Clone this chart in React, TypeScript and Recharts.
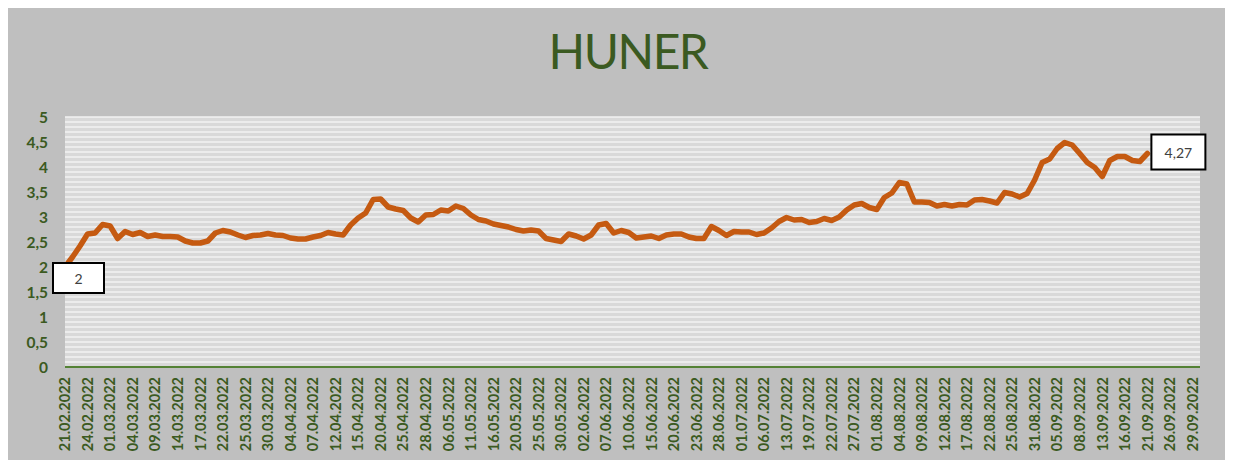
import { LineChart, Line, XAxis, YAxis, CartesianGrid, LabelList, ReferenceLine } from 'recharts';

// trading days (BIST), 21.02.2022 - 30.09.2022
const FEB = [21, 22, 23, 24, 25, 28];
const MAR = [1, 2, 3, 4, 7, 8, 9, 10, 11, 14, 15, 16, 17, 18, 21, 22, 23, 24, 25, 28, 29, 30, 31];
const APR = [1, 4, 5, 6, 7, 8, 11, 12, 13, 14, 15, 18, 19, 20, 21, 22, 25, 26, 27, 28, 29];
const MAY = [5, 6, 9, 10, 11, 12, 13, 16, 17, 18, 20, 23, 24, 25, 26, 27, 30, 31];
const JUN = [1, 2, 3, 6, 7, 8, 9, 10, 13, 14, 15, 16, 17, 20, 21, 22, 23, 24, 27, 28, 29, 30];
const JUL = [1, 4, 5, 6, 7, 8, 13, 14, 18, 19, 20, 21, 22, 25, 26, 27, 28, 29];
const AUG = [1, 2, 3, 4, 5, 8, 9, 10, 11, 12, 15, 16, 17, 18, 19, 22, 23, 24, 25, 26, 29, 31];
const SEP = [1, 2, 5, 6, 7, 8, 9, 12, 13, 14, 15, 16, 19, 20, 21, 22, 23, 26, 27, 28, 29, 30];

const MONTHS: [string, number[]][] = [
  ['02', FEB], ['03', MAR], ['04', APR], ['05', MAY],
  ['06', JUN], ['07', JUL], ['08', AUG], ['09', SEP],
];

const DATES: string[] = MONTHS.flatMap(([mm, days]) =>
  days.map((d) => `${String(d).padStart(2, '0')}.${mm}.2022`),
);

// closing prices (last one is 21.09.2022)
const PRICES = [
  2.0, 2.2, 2.42, 2.66, 2.68, 2.85, 2.82, 2.57, 2.71, 2.65,
  2.69, 2.61, 2.64, 2.61, 2.61, 2.6, 2.52, 2.48, 2.48, 2.52,
  2.68, 2.73, 2.7, 2.64, 2.59, 2.63, 2.64, 2.67, 2.64, 2.63,
  2.58, 2.56, 2.56, 2.6, 2.63, 2.69, 2.66, 2.64, 2.84, 2.98,
  3.08, 3.35, 3.36, 3.2, 3.16, 3.13, 2.98, 2.9, 3.04, 3.05,
  3.14, 3.12, 3.22, 3.17, 3.04, 2.95, 2.92, 2.86, 2.83, 2.8,
  2.75, 2.72, 2.74, 2.72, 2.57, 2.54, 2.51, 2.66, 2.62, 2.56,
  2.64, 2.84, 2.87, 2.68, 2.73, 2.69, 2.58, 2.6, 2.62, 2.57,
  2.64, 2.66, 2.66, 2.6, 2.57, 2.57, 2.81, 2.73, 2.63, 2.71,
  2.7, 2.7, 2.65, 2.68, 2.78, 2.91, 2.99, 2.94, 2.95, 2.89,
  2.91, 2.97, 2.93, 3.0, 3.14, 3.24, 3.27, 3.19, 3.15, 3.39,
  3.48, 3.69, 3.66, 3.3, 3.3, 3.29, 3.22, 3.25, 3.22, 3.25,
  3.24, 3.34, 3.35, 3.32, 3.28, 3.49, 3.46, 3.4, 3.47, 3.74,
  4.09, 4.16, 4.37, 4.49, 4.44, 4.27, 4.09, 3.99, 3.81, 4.13,
  4.21, 4.21, 4.13, 4.11, 4.27,
];

const Y_TICKS = [0, 0.5, 1, 1.5, 2, 2.5, 3, 3.5, 4, 4.5, 5];
// minor gridlines every 0.1
const GRID_TICKS = Array.from({ length: 50 }, (_, i) => (i + 1) / 10);

const GREEN = '#3b5a21';
const AXIS_GREEN = '#548235';
const ORANGE = '#c55a11';
const FONT = 'Lato, "Open Sans", sans-serif';

const data = DATES.map((date, i) => ({ date, price: i < PRICES.length ? PRICES[i] : null }));
const LAST = PRICES.length - 1;

const fmt = (v: number) => String(v).replace('.', ',');

function DateTick({ x, y, payload }: any) {
  return (
    <text
      x={x}
      y={y}
      transform={`rotate(-90 ${x} ${y})`}
      textAnchor="end"
      dy="0.36em"
      fill={GREEN}
      fontSize={14.5}
      fontWeight={700}
      fontFamily={FONT}
    >
      {payload.value}
    </text>
  );
}

function PriceLabel(props: any) {
  const { x, y, value, index } = props;
  if (value == null) return null;
  if (index === 0) {
    return (
      <g>
        <rect x={x - 12} y={y - 4} width={51} height={30} fill="#fff" stroke="#000" strokeWidth={2} />
        <text x={x + 13.5} y={y + 11} textAnchor="middle" dominantBaseline="central" fontSize={14} fill="#404040" fontFamily={FONT}>
          {fmt(value)}
        </text>
      </g>
    );
  }
  if (index === LAST) {
    return (
      <g>
        <rect x={x + 4} y={y - 19} width={54} height={35} fill="#fff" stroke="#000" strokeWidth={2} />
        <text x={x + 31} y={y - 1.5} textAnchor="middle" dominantBaseline="central" fontSize={14} fill="#404040" fontFamily={FONT}>
          {fmt(value)}
        </text>
      </g>
    );
  }
  return null;
}

export default function App() {
  return (
    <div style={{ position: 'relative', margin: -8, width: 1233, height: 468, background: '#dadada', overflow: 'hidden' }}>
      <div style={{ position: 'absolute', left: 6, top: 1, width: 1222, height: 465, background: '#bfbfbf' }}>
        <div
          style={{
            position: 'absolute',
            left: 0,
            width: 1244,
            top: 22,
            textAlign: 'center',
            fontFamily: FONT,
            fontSize: 48,
            letterSpacing: -1.5,
            color: GREEN,
            lineHeight: '56px',
          }}
        >
          HUNER
        </div>
        <LineChart width={1222} height={465} data={data} margin={{ top: 116, right: 28, left: 0, bottom: 0 }}>
          <CartesianGrid vertical={false} horizontal={false} fill="#d9d9d9" />
          {GRID_TICKS.map((v) => (
            <ReferenceLine key={v} y={v} stroke="#f2f2f2" strokeWidth={1.4} />
          ))}
          <XAxis
            dataKey="date"
            interval={2}
            tick={<DateTick />}
            tickLine={false}
            tickSize={0}
            tickMargin={10}
            height={99}
            axisLine={{ stroke: AXIS_GREEN, strokeWidth: 2 }}
          />
          <YAxis
            type="number"
            domain={[0, 5]}
            ticks={Y_TICKS}
            interval={0}
            tickFormatter={fmt}
            width={59}
            axisLine={false}
            tickLine={false}
            tickSize={0}
            tickMargin={17}
            tick={{ fill: GREEN, fontSize: 15.5, fontWeight: 700, fontFamily: FONT }}
          />
          <Line
            type="linear"
            dataKey="price"
            stroke={ORANGE}
            strokeWidth={5.5}
            strokeLinejoin="round"
            strokeLinecap="round"
            dot={false}
            activeDot={false}
            isAnimationActive={false}
          >
            <LabelList dataKey="price" content={<PriceLabel />} />
          </Line>
        </LineChart>
      </div>
    </div>
  );
}
